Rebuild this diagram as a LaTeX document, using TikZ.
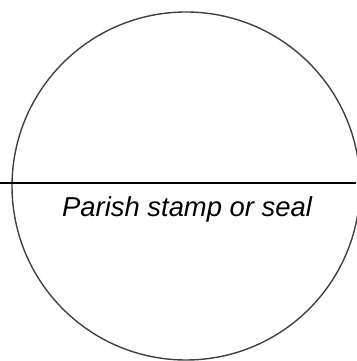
\documentclass[tikz,border=0pt]{standalone}
\usepackage{fontspec}
\setmainfont{Liberation Sans}
\begin{document}
\begin{tikzpicture}[x=1pt,y=1pt,
  sealring/.style={circle,draw=black!75,line width=1.4pt,minimum size=348pt,inner sep=0pt},
  rule/.style={draw=black,line width=2.6pt},
  lbl/.style={inner sep=0pt,anchor=base west,font=\fontsize{27.4}{30}\selectfont\itshape}]
\useasboundingbox (0,0) rectangle (356,361);
\node[sealring] (seal) at (186,175) {};
\coordinate (lineL) at (0,178);
\coordinate (lineR) at (356,178);
\draw[rule] (lineL) -- (lineR);
\node[lbl] (txt) at (62,144) {Parish stamp or seal};
\end{tikzpicture}
\end{document}
